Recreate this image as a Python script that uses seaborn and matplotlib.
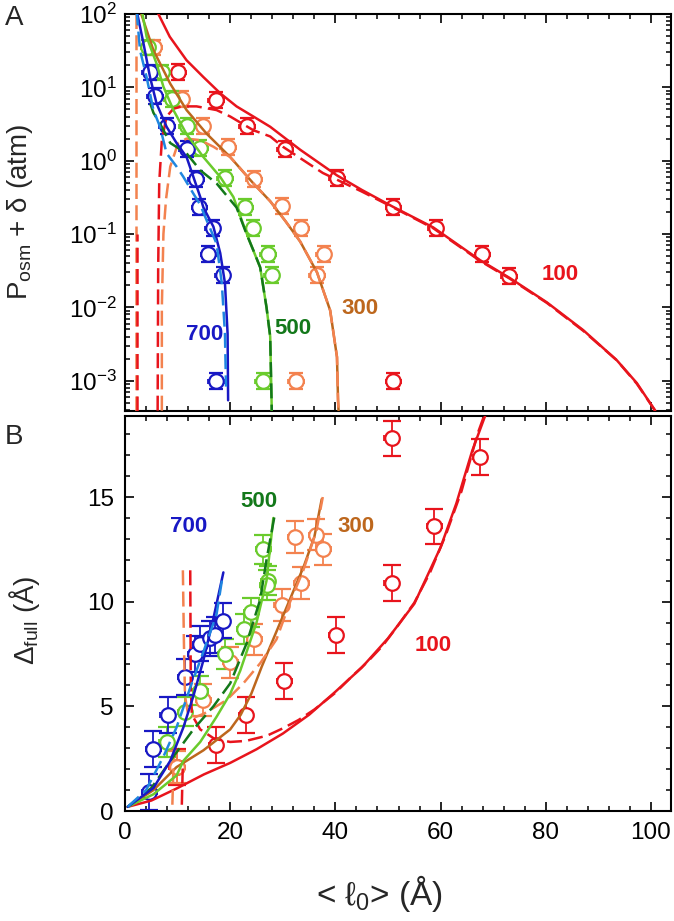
import matplotlib
matplotlib.use("Agg")
import matplotlib.pyplot as plt
import seaborn as sns
from matplotlib.ticker import MultipleLocator, LogLocator, NullFormatter

# ---------------- data: panel A (P_osm + delta vs <l0>) ----------------
red_top_x = [10.1, 17.3, 23.2, 30.4, 40.3, 51.0, 59.1, 67.9, 73.0, 51.0]
red_top_y = [16.2, 6.8, 2.95, 1.45, 0.58, 0.235, 0.12, 0.054, 0.027, 0.001]
orange_top_x = [5.6, 10.8, 14.8, 19.6, 24.5, 29.8, 33.5, 37.8, 36.5, 32.5]
orange_top_y = [35, 6.9, 2.95, 1.55, 0.56, 0.24, 0.12, 0.054, 0.0275, 0.001]
green_top_x = [4.4, 7.0, 8.9, 11.8, 14.3, 19.0, 22.8, 24.3, 27.2, 27.9, 26.2]
green_top_y = [35, 16, 7.0, 3.0, 1.5, 0.58, 0.235, 0.12, 0.054, 0.0275, 0.001]
blue_top_x = [4.75, 5.7, 8.0, 11.8, 13.5, 14.1, 16.7, 15.8, 18.6, 17.3]
blue_top_y = [16, 7.6, 3.0, 1.45, 0.56, 0.235, 0.12, 0.054, 0.0275, 0.001]

red_solid_top_x = [6, 8.5, 11.7, 14.9, 18.1, 21.2, 24.4, 27.6, 30, 33.3, 40.3, 45, 51, 58.6, 67.5,
                   73.2, 80.2, 87.1, 93.5, 97.3, 100.8]
red_solid_top_y = [112, 49, 23.4, 13.8, 8.3, 5.5, 4.0, 2.9, 2.14, 1.41, 0.63, 0.4, 0.234, 0.123, 0.044,
                   0.025, 0.0117, 0.0049, 0.0019, 9.3e-4, 3.9e-4]
red_dash_top_x = [6.2, 6.3, 6.5, 7.0, 7.9, 9.2, 10.8, 13.6, 17.4, 20, 24.4, 27.6, 30, 37.6, 45, 51,
                  58.6, 67.5, 73.2, 80.2, 87.1, 93.5, 97.3, 100.8]
red_dash_top_y = [3.9e-4, 0.032, 0.5, 1.9, 4.0, 5.1, 5.5, 5.5, 4.9, 4.0, 2.6, 2.14, 1.55, 0.68, 0.38, 0.23,
                  0.12, 0.043, 0.0245, 0.0115, 0.0048, 0.0019, 9.1e-4, 3.9e-4]
red_dash_left_x = [2.3, 2.3]
red_dash_left_y = [3.9e-4, 0.1]
orange_dash_left_x = [2.0, 2.0]
orange_dash_left_y = [3.9e-4, 100]
brown_top_x = [2.85, 5.4, 8.6, 11.7, 15.5, 20, 24.4, 27.6, 30.5, 33.3, 36.5, 39.0, 40.3, 40.5, 40.6]
brown_top_y = [112, 32, 11.2, 4.9, 2.34, 1.12, 0.49, 0.28, 0.15, 0.079, 0.03, 0.0091, 0.0021, 5.4e-4, 3.9e-4]
orange_dash_top_x = [7.0, 7.0, 7.3, 7.8, 8.6, 10.1, 11.7, 14.3, 16.8, 20, 24.4, 27.6, 30.5, 33.3, 36.5,
                     39.0, 40.3, 40.5, 40.6]
orange_dash_top_y = [3.9e-4, 0.01, 0.1, 0.3, 0.83, 1.74, 2.0, 1.9, 1.55, 1.12, 0.49, 0.28, 0.15, 0.079,
                     0.03, 0.0091, 0.0021, 5.4e-4, 3.9e-4]
lgreen_top_x = [3.2, 4.1, 6.0, 7.3, 9.2, 11.7, 14.9, 18.1, 20.6, 22.4, 24.0, 25.7, 26.9, 27.6, 27.9]
lgreen_top_y = [112, 49, 21, 10.2, 4.9, 2.3, 1.12, 0.6, 0.32, 0.14, 0.07, 0.035, 0.01, 0.004, 3.9e-4]
dgreen_top_x = [4.8, 5.4, 6.65, 8.6, 11.7, 14.3, 17.4, 21.2, 23.1, 24.4, 25.7, 26.9, 27.6, 27.9]
dgreen_top_y = [6.0, 4.5, 3.2, 1.74, 1.26, 0.74, 0.49, 0.23, 0.1, 0.06, 0.035, 0.01, 0.004, 3.9e-4]
dblue_top_x = [2.2, 3.5, 4.75, 6.0, 7.9, 9.8, 11.7, 13.0, 14.3, 14.9, 16.8, 18.1, 19.0, 19.5, 19.6]
dblue_top_y = [112, 40, 13.8, 6.0, 2.9, 1.74, 1.12, 0.6, 0.32, 0.23, 0.126, 0.055, 0.0214, 0.0044, 5.4e-4]
lblue_top_x = [2.2, 2.85, 4.1, 5.4, 6.65, 7.9, 9.8, 11.1, 13.0, 14.3, 15.5, 17.4, 18.4, 19.0, 19.2]
lblue_top_y = [112, 32, 13.8, 4.9, 2.9, 1.26, 0.83, 0.6, 0.355, 0.25, 0.155, 0.074, 0.0214, 0.0044, 8.3e-4]

# ---------------- data: panel B (Delta_full vs <l0>) ----------------
red_bot_x = [9.8, 17.3, 23.0, 30.3, 40.1, 50.7, 58.8, 67.5, 50.7]
red_bot_y = [2.1, 3.15, 4.6, 6.2, 8.4, 10.9, 13.6, 16.9, 17.8]
orange_bot_x = [9.9, 14.9, 20.0, 24.6, 29.8, 32.3, 33.5, 36.3, 37.7]
orange_bot_y = [2.1, 5.3, 7.1, 8.2, 9.85, 13.1, 10.9, 13.2, 12.5]
green_bot_x = [7.9, 11.4, 14.3, 19.0, 22.6, 24.0, 26.3, 27.2, 27.0]
green_bot_y = [3.3, 4.75, 5.75, 7.5, 8.7, 9.5, 12.5, 11.0, 10.8]
blue_bot_x = [4.6, 5.4, 8.1, 11.4, 13.3, 14.3, 16.2, 17.1, 18.6]
blue_bot_y = [0.92, 2.95, 4.6, 6.4, 7.5, 8.0, 8.25, 8.4, 9.1]

red_solid_bot_x = [0.5, 5, 10, 15, 20, 25, 30, 35, 40, 45, 50, 55, 60, 63, 66, 68.5]
red_solid_bot_y = [0.2, 0.5, 1.1, 1.75, 2.3, 2.95, 3.7, 4.6, 5.7, 6.85, 8.25, 9.9, 12.6, 14.7, 17.2, 18.9]
red_dash_bot_x = [12.4, 12.5, 12.7, 14.3, 17, 20, 23, 27, 30, 33, 36, 40, 43, 46, 49, 52, 55, 58, 61,
                  64, 67, 68.3]
red_dash_bot_y = [11.5, 6.0, 4.6, 3.9, 3.45, 3.3, 3.35, 3.6, 3.95, 4.35, 4.85, 5.65, 6.4, 7.1, 7.9, 8.9,
                  9.95, 11.4, 13.2, 15.3, 18.0, 18.9]
red_dash_low_x = [10.8, 11.0]
red_dash_low_y = [0.3, 2.4]
brown_bot_x = [0.5, 5.4, 9.8, 14.9, 20, 22, 24, 26, 28, 30, 32, 34, 36, 37.4]
brown_bot_y = [0.2, 1.0, 2.1, 2.9, 3.9, 4.6, 5.6, 6.9, 8.1, 9.3, 10.5, 11.7, 13.1, 14.9]
orange_dash_bot_x = [11.0, 11.2, 11.4, 12.0, 13.5, 15.0, 17.0, 19.3, 22.5, 25.7, 28.8, 31.4, 33.9, 36.4, 37.6]
orange_dash_bot_y = [11.5, 8.0, 5.5, 4.6, 4.5, 4.65, 4.95, 5.3, 6.1, 7.06, 8.2, 10.0, 11.5, 13.4, 15.0]
orange_dash_low_x = [9.0, 9.3]
orange_dash_low_y = [0.3, 3.0]
lgreen_bot_x = [0.5, 5.4, 9.8, 11.1, 14.3, 17.4, 20, 21.9, 25, 26.9, 28.2]
lgreen_bot_y = [0.2, 0.8, 1.7, 2.4, 3.3, 4.5, 5.6, 6.7, 9.0, 11.0, 14.0]
dgreen_bot_x = [0.5, 5.0, 9.2, 13, 16.8, 20, 23.1, 25.7, 26.9, 28.5]
dgreen_bot_y = [0.2, 1.1, 2.6, 3.9, 5.0, 6.1, 8.0, 10.1, 12.0, 14.2]
dblue_bot_x = [0.5, 5.4, 8.6, 11.1, 13, 14.9, 16.8, 18.7]
dblue_bot_y = [0.2, 1.1, 2.4, 4.0, 5.5, 7.2, 9.2, 11.4]
lblue_bot_x = [0.5, 4.0, 7.3, 9.8, 12.4, 14.9, 17.4, 18.6]
lblue_bot_y = [0.2, 1.0, 2.6, 4.0, 5.9, 7.6, 9.4, 11.3]

# colours
RED = "#e8141c"
ORANGE = "#f3824f"
BROWN = "#bd671d"
LGREEN = "#6acb2c"
DGREEN = "#13781a"
DBLUE = "#1818c4"
LBLUE = "#1f86e0"

sns.set_theme(style="ticks")
plt.rcParams["font.family"] = ["Liberation Sans", "DejaVu Sans"]
plt.rcParams["mathtext.fontset"] = "custom"
plt.rcParams["mathtext.rm"] = "Liberation Sans"
plt.rcParams["mathtext.it"] = "Liberation Sans:italic"
plt.rcParams["mathtext.bf"] = "Liberation Sans:bold"
plt.rcParams["mathtext.default"] = "regular"
plt.rcParams.update({
    "xtick.direction": "in", "ytick.direction": "in",
    "xtick.top": True, "ytick.right": True,
    "xtick.major.size": 6.5, "ytick.major.size": 6.5,
    "xtick.minor.size": 3.4, "ytick.minor.size": 3.4,
    "xtick.major.width": 1.2, "ytick.major.width": 1.2,
    "xtick.minor.width": 1.1, "ytick.minor.width": 1.1,
    "axes.linewidth": 1.5, "axes.edgecolor": "black",
    "xtick.color": "black", "ytick.color": "black",
})

fig = plt.figure(figsize=(6.74, 9.21), dpi=100)
ax1 = fig.add_axes([0.1855, 0.5541, 0.810, 0.4307])
ax2 = fig.add_axes([0.1855, 0.1194, 0.810, 0.4289])

LONG = (0, (6, 2.5))


def curve(ax, xs, ys, color, ls="-", lw=1.8):
    sns.lineplot(x=xs, y=ys, sort=False, estimator=None, color=color,
                 linestyle=ls, linewidth=lw, zorder=4, ax=ax)


def points(ax, xs, ys, c, xerr, yerr, ycap, xcap):
    ax.errorbar(xs, ys, yerr=yerr, fmt="o", ms=10.5, mfc="white", mec=c, mew=1.6,
                ecolor=c, elinewidth=1.3, capsize=ycap, capthick=1.4, zorder=2)
    ax.errorbar(xs, ys, xerr=xerr, fmt="none", ecolor=c, elinewidth=1.0,
                capsize=xcap, capthick=1.3, zorder=1)


# ---- panel A ----
ax1.set_yscale("log")
curve(ax1, orange_dash_left_x, orange_dash_left_y, ORANGE, LONG)
curve(ax1, red_dash_left_x, red_dash_left_y, RED, LONG)
curve(ax1, red_solid_top_x, red_solid_top_y, RED)
curve(ax1, red_dash_top_x, red_dash_top_y, RED, LONG)
curve(ax1, brown_top_x, brown_top_y, BROWN)
curve(ax1, orange_dash_top_x, orange_dash_top_y, ORANGE, LONG)
curve(ax1, lgreen_top_x, lgreen_top_y, LGREEN)
curve(ax1, dgreen_top_x, dgreen_top_y, DGREEN, LONG)
curve(ax1, dblue_top_x, dblue_top_y, DBLUE)
curve(ax1, lblue_top_x, lblue_top_y, LBLUE, LONG)

for xs, ys, c in [(red_top_x, red_top_y, RED), (orange_top_x, orange_top_y, ORANGE),
                  (green_top_x, green_top_y, LGREEN), (blue_top_x, blue_top_y, DBLUE)]:
    yerr = [[v * 0.22 for v in ys], [v * 0.28 for v in ys]]
    points(ax1, xs, ys, c, 1.45, yerr, 5.0, 1.8)

ax1.text(82.7, 0.028, "100", color=RED, fontsize=16, fontweight="bold", ha="center", va="center")
ax1.text(44.7, 0.0095, "300", color=BROWN, fontsize=16, fontweight="bold", ha="center", va="center")
ax1.text(32.0, 0.0051, "500", color=DGREEN, fontsize=16, fontweight="bold", ha="center", va="center")
ax1.text(15.2, 0.0043, "700", color=DBLUE, fontsize=16, fontweight="bold", ha="center", va="center")

ax1.set_xlim(0, 103.8)
ax1.set_ylim(3.9e-4, 100)
ax1.xaxis.set_major_locator(MultipleLocator(20))
ax1.xaxis.set_minor_locator(MultipleLocator(4))
ax1.xaxis.set_major_formatter(NullFormatter())
ax1.yaxis.set_major_locator(LogLocator(base=10, numticks=10))
ax1.yaxis.set_minor_locator(LogLocator(base=10, subs=range(2, 10), numticks=20))
ax1.yaxis.set_minor_formatter(NullFormatter())
ax1.tick_params(axis="y", which="major", labelsize=17.5, pad=6)
ax1.set_xlabel("")
ax1.set_ylabel("")

# ---- panel B ----
curve(ax2, red_solid_bot_x, red_solid_bot_y, RED)
curve(ax2, red_dash_bot_x, red_dash_bot_y, RED, LONG)
curve(ax2, red_dash_low_x, red_dash_low_y, RED, LONG)
curve(ax2, brown_bot_x, brown_bot_y, BROWN)
curve(ax2, orange_dash_bot_x, orange_dash_bot_y, ORANGE, LONG)
curve(ax2, orange_dash_low_x, orange_dash_low_y, ORANGE, LONG)
curve(ax2, lgreen_bot_x, lgreen_bot_y, LGREEN)
curve(ax2, dgreen_bot_x, dgreen_bot_y, DGREEN, LONG)
curve(ax2, dblue_bot_x, dblue_bot_y, DBLUE)
curve(ax2, lblue_bot_x, lblue_bot_y, LBLUE, LONG)

for xs, ys, c, e in [(red_bot_x, red_bot_y, RED, 0.85), (orange_bot_x, orange_bot_y, ORANGE, 0.75),
                     (green_bot_x, green_bot_y, LGREEN, 0.7), (blue_bot_x, blue_bot_y, DBLUE, 0.85)]:
    points(ax2, xs, ys, c, 1.4, e, 6.5, 2.2)

ax2.text(12.0, 13.6, "700", color=DBLUE, fontsize=16, fontweight="bold", ha="center", va="center")
ax2.text(25.5, 14.8, "500", color=DGREEN, fontsize=16, fontweight="bold", ha="center", va="center")
ax2.text(44.0, 13.6, "300", color=BROWN, fontsize=16, fontweight="bold", ha="center", va="center")
ax2.text(58.6, 7.9, "100", color=RED, fontsize=16, fontweight="bold", ha="center", va="center")

ax2.set_xlim(0, 103.8)
ax2.set_ylim(0, 18.87)
ax2.xaxis.set_major_locator(MultipleLocator(20))
ax2.xaxis.set_minor_locator(MultipleLocator(4))
ax2.yaxis.set_major_locator(MultipleLocator(5))
ax2.yaxis.set_minor_locator(MultipleLocator(1))
ax2.tick_params(axis="both", which="major", labelsize=17.5, pad=8)
ax2.set_xlabel("")
ax2.set_ylabel("")

# axis titles and panel letters
fig.text(20 / 674, 1 - 212 / 921, r"P$_{osm}$ + δ (atm)", rotation=90, fontsize=20,
         ha="center", va="center")
fig.text(24 / 674, 1 - 620 / 921, r"Δ$_{full}$ (Å)", rotation=90, fontsize=20,
         ha="center", va="center")
fig.text(380 / 674, 1 - 893 / 921, r"< $\ell_0$> (Å)", fontsize=24, ha="center", va="center")
fig.text(14 / 674, 1 - 18 / 921, "A", fontsize=20, ha="center", va="center")
fig.text(14 / 674, 1 - 437 / 921, "B", fontsize=20, ha="center", va="center")

fig.savefig("out.png", dpi=100)
